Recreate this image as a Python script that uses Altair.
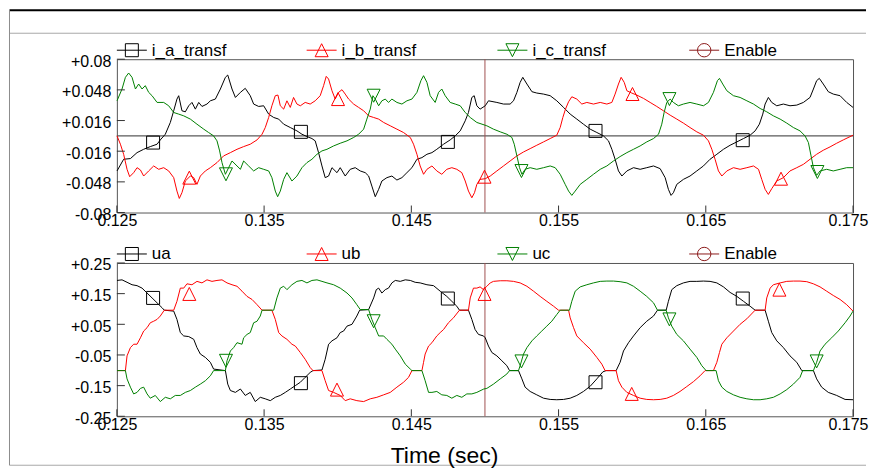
import altair as alt
import pandas as pd

FONT = "Liberation Sans"

# ---------------- top panel: transformer currents (time s, value) ----------------
ia_transf = [
    (0.12501, -0.0366), (0.12546, -0.0244), (0.12592, -0.0237), (0.12637, -0.0175), (0.12682, -0.0140),
    (0.12727, -0.0112), (0.12773, -0.0087), (0.12795, -0.0042), (0.12829, 0.0017), (0.12863, 0.0140),
    (0.12886, 0.0262), (0.12908, 0.0384), (0.12920, 0.0419), (0.12942, 0.0262), (0.12965, 0.0251),
    (0.12988, 0.0314), (0.13010, 0.0349), (0.13033, 0.0279), (0.13056, 0.0349), (0.13078, 0.0307),
    (0.13112, 0.0332), (0.13135, 0.0366), (0.13169, 0.0384), (0.13203, 0.0489), (0.13237, 0.0611),
    (0.13253, 0.0635), (0.13282, 0.0489), (0.13305, 0.0401), (0.13339, 0.0454), (0.13372, 0.0496),
    (0.13406, 0.0419), (0.13429, 0.0332), (0.13463, 0.0307), (0.13497, 0.0314), (0.13531, 0.0227),
    (0.13565, 0.0192), (0.13599, 0.0175), (0.13633, 0.0122), (0.13678, 0.0087), (0.13723, 0.0052),
    (0.13757, 0.0017), (0.13791, -0.0007), (0.13825, -0.0028), (0.13847, -0.0052), (0.13870, -0.0175),
    (0.13893, -0.0314), (0.13915, -0.0436), (0.13938, -0.0419), (0.13961, -0.0332), (0.13995, -0.0384),
    (0.14017, -0.0332), (0.14051, -0.0419), (0.14085, -0.0349), (0.14119, -0.0332), (0.14153, -0.0366),
    (0.14187, -0.0384), (0.14210, -0.0419), (0.14232, -0.0524), (0.14255, -0.0635), (0.14278, -0.0558),
    (0.14300, -0.0471), (0.14334, -0.0436), (0.14368, -0.0419), (0.14402, -0.0461), (0.14436, -0.0436),
    (0.14470, -0.0384), (0.14504, -0.0332), (0.14538, -0.0244), (0.14572, -0.0227), (0.14606, -0.0192),
    (0.14640, -0.0175), (0.14673, -0.0140), (0.14719, -0.0087), (0.14764, -0.0042), (0.14798, 0.0000),
    (0.14832, 0.0052), (0.14866, 0.0157), (0.14888, 0.0244), (0.14911, 0.0401), (0.14927, 0.0419),
    (0.14945, 0.0314), (0.14967, 0.0279), (0.15002, 0.0314), (0.15024, 0.0366), (0.15081, 0.0349),
    (0.15126, 0.0332), (0.15171, 0.0332), (0.15194, 0.0366), (0.15217, 0.0454), (0.15239, 0.0558),
    (0.15257, 0.0611), (0.15285, 0.0541), (0.15319, 0.0461), (0.15352, 0.0447), (0.15398, 0.0436),
    (0.15443, 0.0419), (0.15488, 0.0366), (0.15534, 0.0297), (0.15579, 0.0227), (0.15624, 0.0175),
    (0.15669, 0.0122), (0.15715, 0.0070), (0.15760, 0.0035), (0.15805, 0.0000), (0.15839, -0.0052),
    (0.15862, -0.0140), (0.15884, -0.0244), (0.15907, -0.0366), (0.15930, -0.0419), (0.15964, -0.0366),
    (0.16009, -0.0332), (0.16054, -0.0349), (0.16099, -0.0332), (0.16145, -0.0314), (0.16190, -0.0342),
    (0.16224, -0.0436), (0.16246, -0.0558), (0.16264, -0.0621), (0.16280, -0.0593), (0.16303, -0.0506),
    (0.16348, -0.0454), (0.16393, -0.0419), (0.16439, -0.0366), (0.16484, -0.0314), (0.16529, -0.0244),
    (0.16575, -0.0192), (0.16620, -0.0140), (0.16665, -0.0098), (0.16711, -0.0063), (0.16756, -0.0028),
    (0.16801, 0.0007), (0.16835, 0.0052), (0.16864, 0.0122), (0.16887, 0.0227), (0.16903, 0.0332),
    (0.16925, 0.0401), (0.16948, 0.0349), (0.16982, 0.0314), (0.17027, 0.0332), (0.17072, 0.0314),
    (0.17118, 0.0321), (0.17163, 0.0349), (0.17208, 0.0401), (0.17231, 0.0489), (0.17253, 0.0576),
    (0.17271, 0.0600), (0.17298, 0.0541), (0.17332, 0.0461), (0.17366, 0.0436), (0.17412, 0.0419),
    (0.17457, 0.0349), (0.17500, 0.0297),
]
ib_transf = [
    (0.12501, 0.0000), (0.12524, -0.0087), (0.12546, -0.0192), (0.12569, -0.0349), (0.12587, -0.0426),
    (0.12614, -0.0384), (0.12637, -0.0332), (0.12660, -0.0356), (0.12682, -0.0419), (0.12716, -0.0366),
    (0.12750, -0.0314), (0.12784, -0.0349), (0.12818, -0.0332), (0.12852, -0.0366), (0.12886, -0.0436),
    (0.12908, -0.0576), (0.12924, -0.0653), (0.12942, -0.0593), (0.12965, -0.0471), (0.12999, -0.0419),
    (0.13022, -0.0436), (0.13044, -0.0506), (0.13067, -0.0419), (0.13101, -0.0366), (0.13135, -0.0332),
    (0.13180, -0.0279), (0.13225, -0.0209), (0.13271, -0.0175), (0.13316, -0.0140), (0.13361, -0.0112),
    (0.13406, -0.0087), (0.13452, -0.0042), (0.13486, 0.0017), (0.13508, 0.0087), (0.13531, 0.0192),
    (0.13553, 0.0314), (0.13576, 0.0419), (0.13594, 0.0426), (0.13610, 0.0314), (0.13633, 0.0279),
    (0.13655, 0.0366), (0.13678, 0.0297), (0.13700, 0.0401), (0.13723, 0.0332), (0.13746, 0.0314),
    (0.13779, 0.0349), (0.13813, 0.0332), (0.13847, 0.0366), (0.13881, 0.0419), (0.13904, 0.0524),
    (0.13922, 0.0621), (0.13938, 0.0593), (0.13961, 0.0471), (0.13983, 0.0384), (0.14006, 0.0454),
    (0.14029, 0.0482), (0.14051, 0.0436), (0.14074, 0.0384), (0.14108, 0.0332), (0.14142, 0.0297),
    (0.14176, 0.0262), (0.14210, 0.0209), (0.14244, 0.0192), (0.14278, 0.0175), (0.14312, 0.0140),
    (0.14357, 0.0105), (0.14402, 0.0070), (0.14447, 0.0035), (0.14493, -0.0017), (0.14515, -0.0087),
    (0.14538, -0.0192), (0.14560, -0.0314), (0.14583, -0.0401), (0.14606, -0.0349), (0.14640, -0.0314),
    (0.14673, -0.0366), (0.14707, -0.0401), (0.14741, -0.0349), (0.14775, -0.0332), (0.14809, -0.0349),
    (0.14843, -0.0384), (0.14866, -0.0471), (0.14888, -0.0576), (0.14911, -0.0646), (0.14929, -0.0593),
    (0.14945, -0.0506), (0.14967, -0.0454), (0.15002, -0.0447), (0.15036, -0.0419), (0.15081, -0.0366),
    (0.15126, -0.0314), (0.15171, -0.0262), (0.15217, -0.0209), (0.15262, -0.0168), (0.15307, -0.0133),
    (0.15352, -0.0098), (0.15398, -0.0063), (0.15443, -0.0028), (0.15488, 0.0007), (0.15511, 0.0087),
    (0.15529, 0.0192), (0.15547, 0.0279), (0.15568, 0.0356), (0.15590, 0.0408), (0.15624, 0.0384),
    (0.15658, 0.0332), (0.15692, 0.0349), (0.15737, 0.0332), (0.15783, 0.0349), (0.15828, 0.0332),
    (0.15862, 0.0349), (0.15884, 0.0436), (0.15907, 0.0541), (0.15925, 0.0611), (0.15946, 0.0558),
    (0.15964, 0.0471), (0.15997, 0.0447), (0.16031, 0.0426), (0.16077, 0.0391), (0.16122, 0.0349),
    (0.16167, 0.0307), (0.16212, 0.0262), (0.16258, 0.0216), (0.16303, 0.0175), (0.16348, 0.0133),
    (0.16393, 0.0087), (0.16439, 0.0042), (0.16484, 0.0007), (0.16518, -0.0052), (0.16541, -0.0140),
    (0.16563, -0.0244), (0.16586, -0.0366), (0.16609, -0.0419), (0.16643, -0.0366), (0.16688, -0.0332),
    (0.16733, -0.0349), (0.16779, -0.0332), (0.16824, -0.0314), (0.16858, -0.0349), (0.16880, -0.0454),
    (0.16903, -0.0558), (0.16925, -0.0611), (0.16948, -0.0551), (0.16982, -0.0471), (0.17027, -0.0436),
    (0.17072, -0.0366), (0.17118, -0.0332), (0.17163, -0.0297), (0.17208, -0.0244), (0.17253, -0.0192),
    (0.17298, -0.0150), (0.17344, -0.0115), (0.17389, -0.0077), (0.17434, -0.0042), (0.17500, 0.0007),
]
ic_transf = [
    (0.12501, 0.0366), (0.12535, 0.0489), (0.12558, 0.0611), (0.12580, 0.0656), (0.12603, 0.0611),
    (0.12626, 0.0489), (0.12648, 0.0541), (0.12671, 0.0489), (0.12693, 0.0524), (0.12716, 0.0454),
    (0.12739, 0.0419), (0.12773, 0.0349), (0.12818, 0.0349), (0.12852, 0.0314), (0.12886, 0.0244),
    (0.12920, 0.0227), (0.12954, 0.0209), (0.12999, 0.0175), (0.13044, 0.0122), (0.13090, 0.0070),
    (0.13123, 0.0035), (0.13157, 0.0000), (0.13180, -0.0052), (0.13198, -0.0157), (0.13214, -0.0279),
    (0.13237, -0.0401), (0.13259, -0.0332), (0.13282, -0.0262), (0.13316, -0.0314), (0.13339, -0.0349),
    (0.13361, -0.0262), (0.13395, -0.0314), (0.13429, -0.0366), (0.13463, -0.0332), (0.13497, -0.0349),
    (0.13531, -0.0366), (0.13553, -0.0436), (0.13576, -0.0576), (0.13592, -0.0635), (0.13610, -0.0576),
    (0.13633, -0.0454), (0.13655, -0.0384), (0.13689, -0.0471), (0.13723, -0.0419), (0.13757, -0.0332),
    (0.13791, -0.0279), (0.13825, -0.0244), (0.13859, -0.0192), (0.13893, -0.0157), (0.13927, -0.0140),
    (0.13972, -0.0105), (0.14017, -0.0077), (0.14063, -0.0052), (0.14108, -0.0017), (0.14142, 0.0017),
    (0.14176, 0.0070), (0.14198, 0.0175), (0.14221, 0.0279), (0.14239, 0.0419), (0.14255, 0.0384),
    (0.14278, 0.0314), (0.14300, 0.0366), (0.14323, 0.0384), (0.14345, 0.0349), (0.14368, 0.0384),
    (0.14402, 0.0349), (0.14436, 0.0332), (0.14470, 0.0366), (0.14504, 0.0384), (0.14538, 0.0454),
    (0.14565, 0.0576), (0.14583, 0.0628), (0.14606, 0.0558), (0.14628, 0.0419), (0.14662, 0.0349),
    (0.14685, 0.0454), (0.14707, 0.0489), (0.14730, 0.0419), (0.14764, 0.0349), (0.14798, 0.0332),
    (0.14832, 0.0314), (0.14866, 0.0244), (0.14900, 0.0192), (0.14945, 0.0140), (0.15013, 0.0105),
    (0.15058, 0.0070), (0.15104, 0.0042), (0.15149, 0.0017), (0.15183, -0.0017), (0.15199, -0.0087),
    (0.15217, -0.0209), (0.15235, -0.0332), (0.15251, -0.0401), (0.15273, -0.0349), (0.15307, -0.0332),
    (0.15352, -0.0349), (0.15398, -0.0332), (0.15443, -0.0314), (0.15477, -0.0332), (0.15511, -0.0401),
    (0.15545, -0.0506), (0.15568, -0.0576), (0.15590, -0.0621), (0.15613, -0.0576), (0.15647, -0.0506),
    (0.15692, -0.0454), (0.15737, -0.0401), (0.15783, -0.0349), (0.15828, -0.0314), (0.15873, -0.0262),
    (0.15918, -0.0216), (0.15964, -0.0175), (0.16009, -0.0140), (0.16054, -0.0105), (0.16099, -0.0063),
    (0.16145, -0.0028), (0.16179, 0.0017), (0.16201, 0.0122), (0.16217, 0.0244), (0.16235, 0.0349),
    (0.16258, 0.0384), (0.16280, 0.0349), (0.16314, 0.0314), (0.16348, 0.0332), (0.16393, 0.0349),
    (0.16439, 0.0332), (0.16484, 0.0314), (0.16518, 0.0349), (0.16552, 0.0454), (0.16579, 0.0576),
    (0.16593, 0.0600), (0.16615, 0.0541), (0.16643, 0.0471), (0.16688, 0.0419), (0.16733, 0.0401),
    (0.16779, 0.0366), (0.16824, 0.0332), (0.16869, 0.0286), (0.16914, 0.0251), (0.16959, 0.0209),
    (0.17005, 0.0175), (0.17050, 0.0133), (0.17095, 0.0087), (0.17140, 0.0052), (0.17174, 0.0000),
    (0.17197, -0.0070), (0.17215, -0.0209), (0.17231, -0.0332), (0.17253, -0.0412), (0.17276, -0.0366),
    (0.17321, -0.0349), (0.17366, -0.0366), (0.17412, -0.0349), (0.17457, -0.0332), (0.17500, -0.0332),
]

# ---------------- bottom panel: voltages (time s, value) ----------------
ua = [
    (0.12501, 0.193), (0.12535, 0.195), (0.12569, 0.187), (0.12603, 0.179), (0.12637, 0.176),
    (0.12671, 0.168), (0.12705, 0.152), (0.12739, 0.136), (0.12773, 0.120), (0.12807, 0.104),
    (0.12822, 0.096), (0.12886, 0.093), (0.12908, 0.066), (0.12931, 0.023), (0.12954, 0.012),
    (0.12988, 0.010), (0.13022, 0.001), (0.13044, -0.026), (0.13067, -0.047), (0.13101, -0.058),
    (0.13135, -0.074), (0.13157, -0.096), (0.13237, -0.101), (0.13253, -0.145), (0.13271, -0.166),
    (0.13305, -0.172), (0.13339, -0.161), (0.13372, -0.182), (0.13406, -0.172), (0.13440, -0.202),
    (0.13474, -0.188), (0.13508, -0.193), (0.13542, -0.199), (0.13576, -0.188), (0.13610, -0.182),
    (0.13644, -0.172), (0.13678, -0.161), (0.13712, -0.150), (0.13746, -0.139), (0.13779, -0.123),
    (0.13813, -0.107), (0.13832, -0.101), (0.13893, -0.099), (0.13915, -0.064), (0.13938, -0.015),
    (0.13961, -0.004), (0.13995, 0.006), (0.14017, 0.023), (0.14040, 0.028), (0.14063, 0.044),
    (0.14097, 0.050), (0.14130, 0.077), (0.14149, 0.096), (0.14210, 0.098), (0.14244, 0.136),
    (0.14262, 0.163), (0.14278, 0.168), (0.14300, 0.152), (0.14323, 0.163), (0.14345, 0.168),
    (0.14368, 0.185), (0.14391, 0.193), (0.14425, 0.190), (0.14459, 0.195), (0.14493, 0.193),
    (0.14526, 0.187), (0.14560, 0.185), (0.14606, 0.179), (0.14651, 0.176), (0.14696, 0.158),
    (0.14741, 0.141), (0.14775, 0.125), (0.14809, 0.109), (0.14827, 0.096), (0.14888, 0.096),
    (0.14911, 0.066), (0.14933, 0.033), (0.14956, 0.017), (0.14990, 0.012), (0.15002, 0.006),
    (0.15024, -0.021), (0.15047, -0.042), (0.15081, -0.053), (0.15115, -0.069), (0.15149, -0.085),
    (0.15167, -0.101), (0.15228, -0.101), (0.15251, -0.128), (0.15273, -0.155), (0.15307, -0.169),
    (0.15352, -0.180), (0.15398, -0.191), (0.15443, -0.195), (0.15488, -0.196), (0.15534, -0.195),
    (0.15579, -0.191), (0.15624, -0.182), (0.15669, -0.169), (0.15715, -0.152), (0.15760, -0.128),
    (0.15801, -0.105), (0.15823, -0.101), (0.15891, -0.101), (0.15918, -0.074), (0.15941, -0.037),
    (0.15975, -0.010), (0.16009, 0.012), (0.16054, 0.039), (0.16099, 0.060), (0.16145, 0.077),
    (0.16172, 0.096), (0.16231, 0.096), (0.16246, 0.125), (0.16269, 0.163), (0.16303, 0.176),
    (0.16348, 0.185), (0.16393, 0.190), (0.16439, 0.190), (0.16484, 0.191), (0.16529, 0.190),
    (0.16575, 0.185), (0.16620, 0.172), (0.16665, 0.154), (0.16711, 0.141), (0.16756, 0.125),
    (0.16801, 0.109), (0.16835, 0.096), (0.16903, 0.096), (0.16925, 0.060), (0.16948, 0.023),
    (0.16982, -0.004), (0.17027, -0.026), (0.17072, -0.053), (0.17118, -0.074), (0.17152, -0.101),
    (0.17231, -0.101), (0.17253, -0.128), (0.17287, -0.155), (0.17332, -0.172), (0.17389, -0.182),
    (0.17446, -0.195), (0.17500, -0.196),
]
ub = [
    (0.12501, -0.101), (0.12558, -0.101), (0.12569, -0.053), (0.12592, -0.026), (0.12614, -0.015),
    (0.12637, -0.015), (0.12660, 0.006), (0.12682, 0.028), (0.12705, 0.039), (0.12727, 0.055),
    (0.12750, 0.060), (0.12773, 0.066), (0.12795, 0.077), (0.12822, 0.096), (0.12886, 0.096),
    (0.12908, 0.125), (0.12931, 0.168), (0.12954, 0.168), (0.12976, 0.182), (0.13010, 0.179),
    (0.13044, 0.190), (0.13078, 0.185), (0.13112, 0.195), (0.13146, 0.190), (0.13180, 0.193),
    (0.13214, 0.195), (0.13248, 0.185), (0.13282, 0.179), (0.13316, 0.174), (0.13350, 0.158),
    (0.13384, 0.141), (0.13418, 0.131), (0.13452, 0.114), (0.13486, 0.096), (0.13553, 0.096),
    (0.13576, 0.066), (0.13599, 0.023), (0.13621, 0.012), (0.13655, 0.001), (0.13689, -0.015),
    (0.13712, -0.021), (0.13746, -0.042), (0.13779, -0.064), (0.13813, -0.091), (0.13832, -0.101),
    (0.13893, -0.101), (0.13915, -0.134), (0.13938, -0.166), (0.13972, -0.172), (0.14017, -0.182),
    (0.14051, -0.199), (0.14085, -0.193), (0.14130, -0.199), (0.14176, -0.202), (0.14221, -0.193),
    (0.14266, -0.188), (0.14312, -0.180), (0.14357, -0.172), (0.14402, -0.155), (0.14447, -0.139),
    (0.14481, -0.123), (0.14504, -0.101), (0.14572, -0.101), (0.14583, -0.074), (0.14594, -0.047),
    (0.14617, -0.021), (0.14640, -0.010), (0.14673, 0.012), (0.14696, 0.023), (0.14719, 0.033),
    (0.14752, 0.055), (0.14786, 0.071), (0.14827, 0.096), (0.14888, 0.096), (0.14900, 0.136),
    (0.14922, 0.168), (0.14945, 0.168), (0.14967, 0.172), (0.14990, 0.163), (0.15013, 0.174),
    (0.15036, 0.185), (0.15058, 0.190), (0.15104, 0.192), (0.15149, 0.192), (0.15194, 0.190),
    (0.15239, 0.185), (0.15285, 0.174), (0.15330, 0.158), (0.15375, 0.141), (0.15420, 0.125),
    (0.15466, 0.109), (0.15500, 0.096), (0.15568, 0.096), (0.15579, 0.071), (0.15602, 0.039),
    (0.15624, 0.012), (0.15669, -0.010), (0.15715, -0.031), (0.15760, -0.058), (0.15794, -0.080),
    (0.15816, -0.101), (0.15891, -0.101), (0.15907, -0.134), (0.15930, -0.155), (0.15964, -0.172),
    (0.16009, -0.182), (0.16054, -0.191), (0.16099, -0.195), (0.16145, -0.196), (0.16190, -0.195),
    (0.16235, -0.191), (0.16280, -0.182), (0.16325, -0.169), (0.16371, -0.153), (0.16416, -0.137),
    (0.16461, -0.118), (0.16495, -0.101), (0.16552, -0.101), (0.16575, -0.074), (0.16593, -0.042),
    (0.16609, -0.015), (0.16643, 0.006), (0.16688, 0.028), (0.16733, 0.050), (0.16779, 0.068),
    (0.16835, 0.096), (0.16903, 0.096), (0.16914, 0.136), (0.16937, 0.168), (0.16959, 0.179),
    (0.17005, 0.185), (0.17050, 0.190), (0.17095, 0.191), (0.17140, 0.191), (0.17186, 0.189),
    (0.17231, 0.182), (0.17276, 0.172), (0.17321, 0.158), (0.17366, 0.144), (0.17412, 0.131),
    (0.17457, 0.114), (0.17500, 0.093),
]
uc = [
    (0.12501, -0.101), (0.12558, -0.101), (0.12569, -0.128), (0.12592, -0.155), (0.12614, -0.177),
    (0.12637, -0.172), (0.12660, -0.159), (0.12682, -0.155), (0.12705, -0.177), (0.12727, -0.191),
    (0.12761, -0.182), (0.12795, -0.202), (0.12829, -0.188), (0.12863, -0.193), (0.12897, -0.182),
    (0.12931, -0.182), (0.12965, -0.172), (0.12999, -0.166), (0.13033, -0.155), (0.13067, -0.145),
    (0.13101, -0.134), (0.13135, -0.118), (0.13157, -0.101), (0.13237, -0.101), (0.13248, -0.069),
    (0.13271, -0.037), (0.13293, -0.026), (0.13316, -0.010), (0.13350, -0.015), (0.13361, 0.006),
    (0.13384, 0.017), (0.13406, 0.023), (0.13429, 0.055), (0.13452, 0.060), (0.13474, 0.077),
    (0.13486, 0.096), (0.13565, 0.096), (0.13587, 0.136), (0.13610, 0.168), (0.13633, 0.174),
    (0.13655, 0.163), (0.13689, 0.179), (0.13723, 0.190), (0.13757, 0.193), (0.13791, 0.185),
    (0.13825, 0.193), (0.13859, 0.195), (0.13893, 0.190), (0.13927, 0.185), (0.13972, 0.179),
    (0.14017, 0.168), (0.14063, 0.152), (0.14097, 0.136), (0.14130, 0.114), (0.14153, 0.098),
    (0.14210, 0.098), (0.14232, 0.066), (0.14255, 0.039), (0.14278, 0.012), (0.14312, 0.012),
    (0.14334, 0.001), (0.14368, -0.015), (0.14391, -0.031), (0.14425, -0.053), (0.14459, -0.080),
    (0.14493, -0.096), (0.14504, -0.101), (0.14572, -0.101), (0.14594, -0.134), (0.14617, -0.172),
    (0.14640, -0.172), (0.14673, -0.169), (0.14707, -0.180), (0.14741, -0.182), (0.14775, -0.191),
    (0.14809, -0.182), (0.14843, -0.188), (0.14877, -0.177), (0.14911, -0.177), (0.14945, -0.172),
    (0.14992, -0.161), (0.15013, -0.159), (0.15058, -0.145), (0.15104, -0.128), (0.15149, -0.112),
    (0.15167, -0.101), (0.15228, -0.101), (0.15239, -0.085), (0.15262, -0.047), (0.15285, -0.026),
    (0.15319, -0.004), (0.15352, 0.012), (0.15386, 0.028), (0.15420, 0.044), (0.15454, 0.060),
    (0.15488, 0.082), (0.15511, 0.096), (0.15574, 0.096), (0.15590, 0.125), (0.15613, 0.158),
    (0.15647, 0.172), (0.15692, 0.179), (0.15737, 0.185), (0.15783, 0.190), (0.15828, 0.191),
    (0.15873, 0.191), (0.15918, 0.189), (0.15964, 0.185), (0.16009, 0.174), (0.16054, 0.158),
    (0.16099, 0.141), (0.16145, 0.120), (0.16172, 0.096), (0.16231, 0.096), (0.16246, 0.071),
    (0.16269, 0.044), (0.16303, 0.017), (0.16348, -0.004), (0.16393, -0.031), (0.16439, -0.058),
    (0.16473, -0.085), (0.16502, -0.101), (0.16570, -0.101), (0.16586, -0.134), (0.16609, -0.155),
    (0.16643, -0.169), (0.16688, -0.180), (0.16733, -0.188), (0.16779, -0.193), (0.16824, -0.196),
    (0.16869, -0.196), (0.16914, -0.193), (0.16959, -0.188), (0.17005, -0.177), (0.17050, -0.163),
    (0.17095, -0.145), (0.17140, -0.123), (0.17158, -0.101), (0.17231, -0.101), (0.17253, -0.074),
    (0.17276, -0.037), (0.17310, -0.015), (0.17355, 0.006), (0.17400, 0.028), (0.17446, 0.055),
    (0.17480, 0.077), (0.17500, 0.093),
]

# ---------------- markers (time s, value) ----------------
top_markers = [
    [(0.12746, -0.0070), (0.13750, 0.0042), (0.14748, -0.0063), (0.15751, 0.0052), (0.16751, -0.0045)],
    [(0.12992, -0.0436), (0.14002, 0.0384), (0.14997, -0.0426), (0.16002, 0.0437), (0.17011, -0.0447)],
    [(0.13241, -0.0401), (0.14244, 0.0419), (0.15248, -0.0367), (0.16253, 0.0384), (0.17258, -0.0377)],
]
bot_markers = [
    [(0.12746, 0.136), (0.13750, -0.142), (0.14748, 0.134), (0.15751, -0.139), (0.16751, 0.134)],
    [(0.12992, 0.149), (0.13995, -0.163), (0.14997, 0.149), (0.15997, -0.177), (0.17000, 0.163)],
    [(0.13241, -0.069), (0.14244, 0.060), (0.15248, -0.071), (0.16253, 0.066), (0.17253, -0.071)],
]

top_names = ["i_a_transf", "i_b_transf", "i_c_transf", "Enable"]
bot_names = ["ua", "ub", "uc", "Enable"]
series_colors = ["#000000", "#ff0000", "#008000", "#8b1a1a"]
marker_shapes = ["M-1,-1H1V1H-1Z", "M0,-1L1,1L-1,1Z", "M-1,-1L1,-1L0,1Z", "circle"]

x_domain = [0.125, 0.175]
x_ticks = [0.125, 0.135, 0.145, 0.155, 0.165, 0.175]
top_y_domain = [-0.08, 0.08]
top_y_ticks = [0.08, 0.048, 0.016, -0.016, -0.048, -0.08]
bot_y_domain = [-0.25, 0.25]
bot_y_ticks = [0.25, 0.15, 0.05, -0.05, -0.15, -0.25]
enable_time = [0.15]
x_title = "Time (sec)"

W, H = 737, 153.5
LEG_X = [0, 190, 381, 573]
FRAME_LEFT = -107.5
FRAME_RIGHT = 750
ONE = pd.DataFrame({"k": [0]})


def panel(curves, markers, names, y_dom, y_ticks, zero_line, title, frame):
    rows = []
    for name, pts in zip(names, curves):
        rows += [{"t": t, "v": v, "s": name} for t, v in pts]
    df = pd.DataFrame(rows)
    mrows = []
    for name, pts in zip(names, markers):
        mrows += [{"t": t, "v": v, "s": name} for t, v in pts]
    mdf = pd.DataFrame(mrows)

    xkw = dict(values=x_ticks, format=".3f", ticks=False, tickSize=0, domain=False, grid=False,
               labelFlush=False, labelPadding=0, labelFontSize=16, labelFont=FONT,
               labelColor="black", labelOverlap=False,
               labelOffset={"condition": {"test": "datum.value > 0.1745", "value": -5}, "value": 0})
    if title:
        xaxis = alt.Axis(**xkw, title=title, titleFont=FONT, titleFontSize=23,
                         titleFontWeight="normal", titleColor="black", titleX=327.5,
                         titleY=46.5, titleAlign="center", titleBaseline="alphabetic",
                         titleAnchor="start")
    else:
        xaxis = alt.Axis(**xkw, title=None)
    yaxis = alt.Axis(values=y_ticks, ticks=False, tickSize=0, domain=False, grid=False,
                     labelExpr="(datum.value > 0 ? '+' : '-') + format(abs(datum.value), '.3~f')",
                     labelPadding=6, labelFontSize=16, labelFont=FONT, labelColor="black",
                     labelBaseline="middle", labelOffset=2, labelOverlap=False, title=None)
    xenc = alt.X("t:Q", scale=alt.Scale(domain=x_domain, nice=False, zero=False), axis=xaxis)
    yenc = alt.Y("v:Q", scale=alt.Scale(domain=y_dom, nice=False, zero=False), axis=yaxis)
    color = alt.Color("s:N", scale=alt.Scale(domain=names, range=series_colors), legend=None)
    shape = alt.Shape("s:N", scale=alt.Scale(domain=names, range=marker_shapes), legend=None)

    layers = []
    if zero_line:
        layers.append(alt.Chart(pd.DataFrame({"v": [0.0]})).mark_rule(
            color="#5a5a5a", strokeWidth=1.2).encode(y=yenc))
    layers.append(alt.Chart(pd.DataFrame({"t": enable_time})).mark_rule(
        color="#a05050", strokeWidth=1).encode(x=xenc))
    layers.append(alt.Chart(df).mark_line(strokeWidth=1).encode(
        x=xenc, y=yenc, color=color, detail="s:N"))
    layers.append(alt.Chart(mdf).mark_point(size=169, filled=False, strokeWidth=1, opacity=1).encode(
        x=xenc, y=yenc, color=color, shape=shape))
    # inward ticks
    layers.append(alt.Chart(pd.DataFrame({"v": y_ticks})).mark_rule(color="#333333").encode(
        y=yenc, x=alt.value(0), x2=alt.value(8)))
    layers.append(alt.Chart(pd.DataFrame({"t": x_ticks})).mark_rule(color="#333333").encode(
        x=xenc, y=alt.value(H), y2=alt.value(H - 7)))
    # legend row above the plot
    for i, name in enumerate(names):
        x0 = LEG_X[i]
        c = series_colors[i]
        layers.append(alt.Chart(ONE).mark_rule(color=c, strokeWidth=1).encode(
            x=alt.value(x0), x2=alt.value(x0 + 30), y=alt.value(-9)))
        layers.append(alt.Chart(ONE).mark_point(
            shape=marker_shapes[i], size=169 if i < 3 else 180, filled=False, color=c,
            strokeWidth=1, opacity=1).encode(x=alt.value(x0 + 15), y=alt.value(-9)))
        layers.append(alt.Chart(ONE).mark_text(
            align="left", baseline="middle", font=FONT, fontSize=17, color="black").encode(
            x=alt.value(x0 + 35), y=alt.value(-8.5), text=alt.value(name)))
    if frame:
        layers.append(alt.Chart(ONE).mark_rule(color="#000000", strokeWidth=2).encode(
            x=alt.value(FRAME_LEFT), x2=alt.value(FRAME_RIGHT), y=alt.value(-49)))
        layers.append(alt.Chart(ONE).mark_rule(color="#a8a8a8", strokeWidth=1).encode(
            x=alt.value(FRAME_LEFT), x2=alt.value(FRAME_RIGHT), y=alt.value(-26)))
        layers.append(alt.Chart(ONE).mark_rule(color="#a8a8a8", strokeWidth=1).encode(
            x=alt.value(FRAME_LEFT), x2=alt.value(FRAME_RIGHT), y=alt.value(406.5)))
        layers.append(alt.Chart(ONE).mark_rule(color="#8c8c8c", strokeWidth=1).encode(
            x=alt.value(FRAME_LEFT), y=alt.value(-49), y2=alt.value(406.5)))
    return alt.layer(*layers).properties(width=W, height=H)


top = panel([ia_transf, ib_transf, ic_transf], top_markers, top_names,
            top_y_domain, top_y_ticks, True, None, True)
bottom = panel([ua, ub, uc], bot_markers, bot_names,
               bot_y_domain, bot_y_ticks, False, x_title, False)

chart = alt.vconcat(top, bottom, spacing=50, bounds="flush").properties(
    padding=0, background="white"
).configure_view(stroke="#555555", strokeWidth=1)

chart.save("out.html", embed_options={"renderer": "svg", "actions": False})
